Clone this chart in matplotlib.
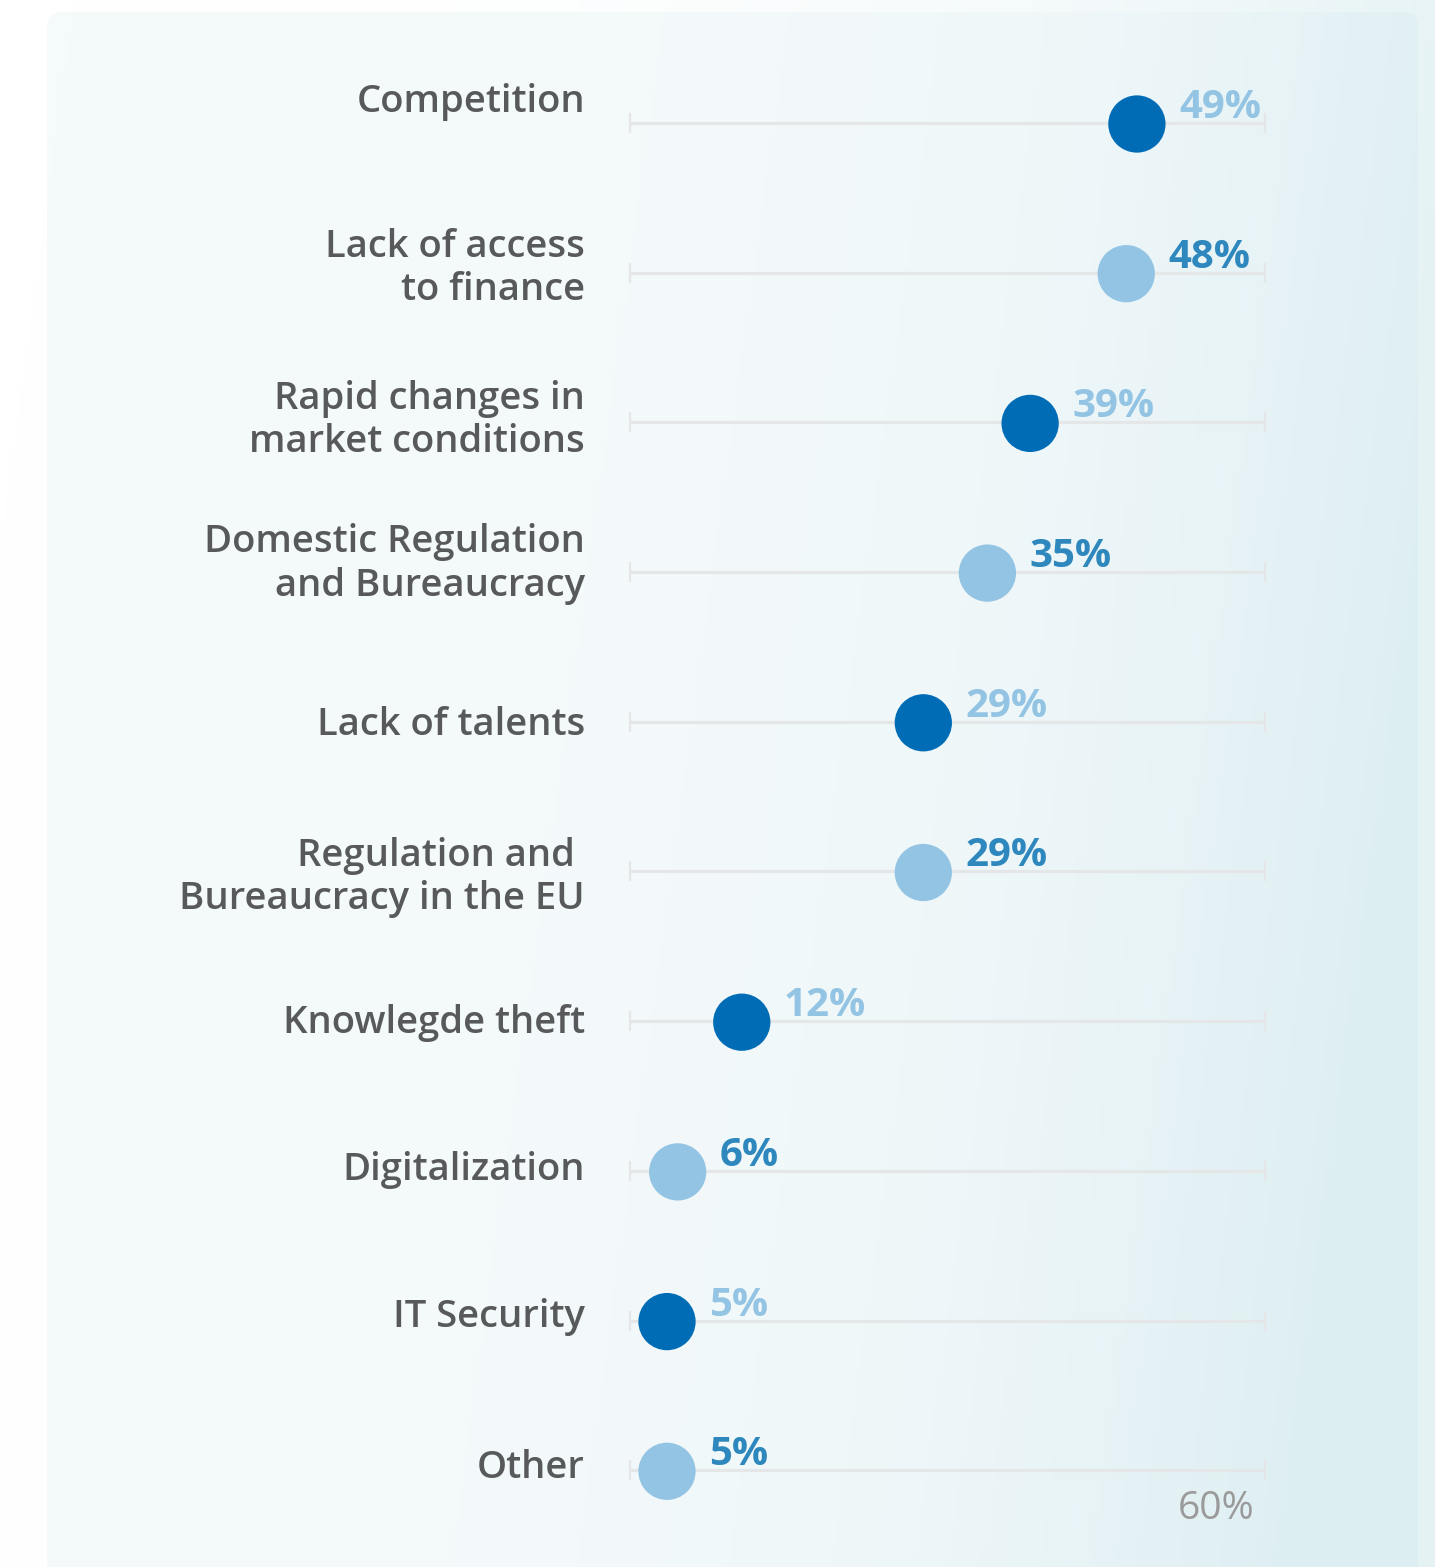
import matplotlib
matplotlib.use("Agg")
import matplotlib.pyplot as plt
import numpy as np
from matplotlib.patches import FancyBboxPatch

# data
categories = [
    "Competition",
    "Lack of access\nto finance",
    "Rapid changes in\nmarket conditions",
    "Domestic Regulation\nand Bureaucracy",
    "Lack of talents",
    "Regulation and \nBureaucracy in the EU",
    "Knowlegde theft",
    "Digitalization",
    "IT Security",
    "Other",
]
values = [49, 48, 39, 35, 29, 29, 12, 6, 5, 5]
value_labels = ["49%", "48%", "39%", "35%", "29%", "29%", "12%", "6%", "5%", "5%"]
scale_max = 60
scale_label = "60%"

W, H = 1435, 1567
DPI = 100
FONT = ["Open Sans", "DejaVu Sans"]

DARK = "#006cb5"
LIGHT = "#93c4e3"
DARK_TEXT = "#2e87bd"
GREY = "#58595b"
LINE = "#e4e6e7"

# pixel mapping used for placing the data axes
X0_PX, PX_PER_PCT = 613.6, 10.68
Y0_PX, PX_PER_ROW = 123.0, 149.7

fig = plt.figure(figsize=(W / DPI, H / DPI), dpi=DPI)

# ---- background
bg = fig.add_axes([0, 0, 1, 1], zorder=0)
bg.set_xlim(0, W)
bg.set_ylim(H, 0)
bg.set_axis_off()

xx, yy = np.meshgrid(np.linspace(0, 1, 300), np.linspace(0, 1, 330))


def gradient(c0, c1, power):
    c0 = np.array(matplotlib.colors.to_rgb(c0))
    c1 = np.array(matplotlib.colors.to_rgb(c1))
    t = np.clip(xx + 0.15 * yy - 0.05, 0, 1) ** power
    return c0[None, None, :] * (1 - t[..., None]) + c1[None, None, :] * t[..., None]


bg.imshow(gradient("#ffffff", "#e4f2f4", 2.5), extent=(0, W, H, 0), aspect="auto", zorder=0)
panel = FancyBboxPatch((47, 12), 1371, H + 40, boxstyle="round,pad=0,rounding_size=16",
                       facecolor="none", edgecolor="none")
bg.add_patch(panel)
im = bg.imshow(gradient("#f5fafb", "#ddeef2", 3.6), extent=(0, W, H, 0), aspect="auto", zorder=1)
im.set_clip_path(panel)

# ---- data axes covering the whole figure
ax = fig.add_axes([0, 0, 1, 1], zorder=1)
ax.patch.set_alpha(0)
ax.set_xlim(-X0_PX / PX_PER_PCT, (W - X0_PX) / PX_PER_PCT)
ax.set_ylim((H - Y0_PX) / PX_PER_ROW, -Y0_PX / PX_PER_ROW)
ax.set_axis_off()

px = 1 / PX_PER_PCT
py = 1 / PX_PER_ROW
line_start, line_end = 1.5, 61.0

rows = np.arange(len(categories))
dot_colors = [DARK if i % 2 == 0 else LIGHT for i in rows]
text_colors = [LIGHT if i % 2 == 0 else DARK_TEXT for i in rows]

for i in rows:
    ax.plot([line_start, line_end], [i, i], color=LINE, lw=2.3, solid_capstyle="butt", zorder=2)
    for xe in (line_start, line_end):
        ax.plot([xe, xe], [i - 9 * py, i + 9 * py], color=LINE, lw=1.6, zorder=2)

ax.scatter(values, rows + 1 * py, s=1700, c=dot_colors, linewidths=0, zorder=3)

for i, (v, lab) in enumerate(zip(values, value_labels)):
    ax.text(v + 42 * px, i - 5 * py, lab, color=text_colors[i], fontsize=29,
            fontweight="bold", family=FONT, ha="left", va="baseline", zorder=4)

label_dy = [-21, -4, -2, -8, 3, 6, 2, -1, -4, -2]
for i, cat in enumerate(categories):
    ax.text(-28.6 * px, i + label_dy[i] * py, cat, color=GREY, fontsize=27.5,
            fontweight="semibold", family=FONT, ha="right", va="center",
            linespacing=1.18, zorder=4)

ax.text(scale_max, len(categories) - 1 + 39 * py, scale_label, color="#9a9a9a", fontsize=28,
        fontweight="normal", family=FONT, ha="right", va="center", zorder=4)

fig.savefig("out.png", dpi=DPI)
